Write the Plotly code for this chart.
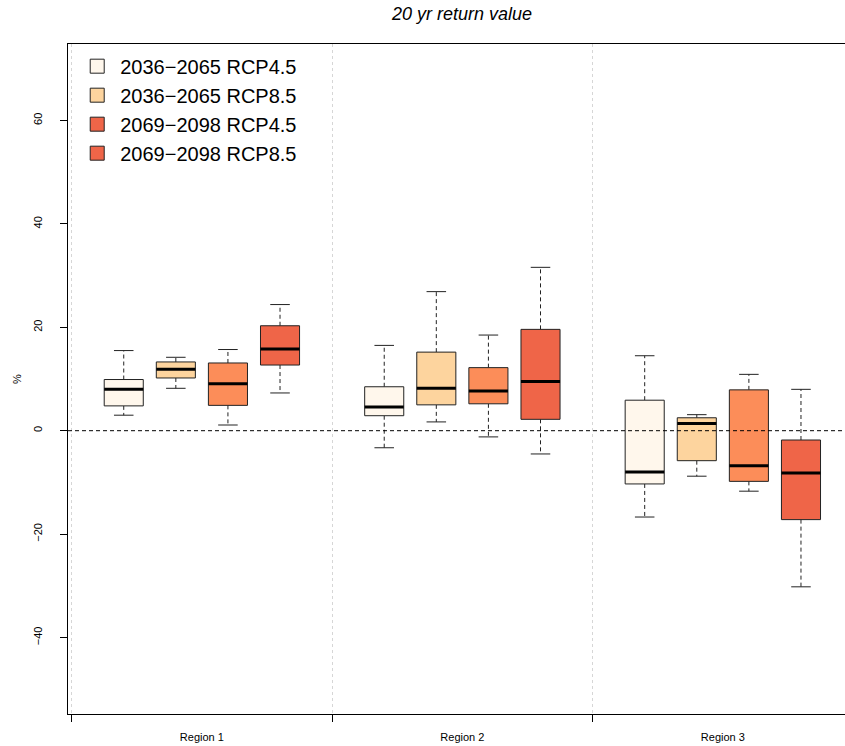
import plotly.graph_objects as go

# Regions and scenario groups
regions = ["Region 1", "Region 2", "Region 3"]
series = ["2036−2065 RCP4.5", "2036−2065 RCP8.5", "2069−2098 RCP4.5", "2069−2098 RCP8.5"]

# Box statistics (% change of the 20 yr return value), one list per scenario, one value per region
whisker_low = [
    [3.0, -3.3, -16.7],
    [8.2, 1.7, -8.8],
    [1.1, -1.2, -11.7],
    [7.3, -4.5, -30.2],
]
q1 = [
    [4.8, 2.9, -10.3],
    [10.2, 5.0, -5.8],
    [4.9, 5.2, -9.8],
    [12.7, 2.2, -17.2],
]
median = [
    [8.0, 4.6, -8.0],
    [11.9, 8.2, 1.4],
    [9.1, 7.7, -6.8],
    [15.8, 9.5, -8.2],
]
q3 = [
    [9.9, 8.5, 5.9],
    [13.3, 15.2, 2.5],
    [13.1, 12.2, 7.9],
    [20.3, 19.6, -1.8],
]
whisker_high = [
    [15.5, 16.5, 14.5],
    [14.2, 26.9, 3.1],
    [15.7, 18.5, 10.9],
    [24.4, 31.6, 8.0],
]

box_colors = ["#FFF7EC", "#FDD49E", "#FC8D59", "#EF6548"]
legend_colors = ["#FFF7EC", "#FDD49E", "#EF6548", "#EF6548"]

y_ticks = [-40, -20, 0, 20, 40, 60]

FONT = "Liberation Sans, Arial, Helvetica, sans-serif"
HALF_W = 0.075   # half box width in region units
CAP_HW = 0.0375  # half cap width
STEP = 0.2       # spacing of boxes inside a region

fig = go.Figure()

def centre(r, s):
    return r + STEP * (s + 1)

# dashed whiskers
wx, wy = [], []
for s in range(len(series)):
    for r in range(len(regions)):
        c = centre(r, s)
        wx += [c, c, None, c, c, None]
        wy += [q3[s][r], whisker_high[s][r], None, q1[s][r], whisker_low[s][r], None]
fig.add_trace(go.Scatter(x=wx, y=wy, mode="lines", showlegend=False, hoverinfo="skip",
                         line=dict(color="#222222", width=1, dash="4px,3px")))

# whisker caps
cx, cy = [], []
for s in range(len(series)):
    for r in range(len(regions)):
        c = centre(r, s)
        for v in (whisker_high[s][r], whisker_low[s][r]):
            cx += [c - CAP_HW, c + CAP_HW, None]
            cy += [v, v, None]
fig.add_trace(go.Scatter(x=cx, y=cy, mode="lines", showlegend=False, hoverinfo="skip",
                         line=dict(color="#222222", width=1)))

# boxes
for s in range(len(series)):
    bx, by = [], []
    for r in range(len(regions)):
        c = centre(r, s)
        bx += [c - HALF_W, c + HALF_W, c + HALF_W, c - HALF_W, c - HALF_W, None]
        by += [q1[s][r], q1[s][r], q3[s][r], q3[s][r], q1[s][r], None]
    fig.add_trace(go.Scatter(x=bx, y=by, mode="lines", fill="toself",
                             fillcolor=box_colors[s], showlegend=False, hoverinfo="skip",
                             line=dict(color="#222222", width=1)))

# medians
mx, my = [], []
for s in range(len(series)):
    for r in range(len(regions)):
        c = centre(r, s)
        mx += [c - HALF_W, c + HALF_W, None]
        my += [median[s][r], median[s][r], None]
fig.add_trace(go.Scatter(x=mx, y=my, mode="lines", showlegend=False, hoverinfo="skip",
                         line=dict(color="black", width=3)))

# legend entries
for s, name in enumerate(series):
    fig.add_trace(go.Scatter(x=[None], y=[None], mode="markers", name=name,
                             marker=dict(symbol="square", size=14, color=legend_colors[s],
                                         line=dict(color="#222222", width=1))))

# zero reference line
fig.add_shape(type="line", xref="paper", yref="y", x0=0, x1=1, y0=0, y1=0,
              line=dict(color="black", width=1, dash="4px,3px"))

fig.add_annotation(text="<i>20 yr return value</i>", xref="paper", yref="paper",
                   x=0.507, y=1.0448, xanchor="center", yanchor="middle", showarrow=False,
                   font=dict(family=FONT, size=18, color="black"))
fig.add_annotation(text="%", xref="paper", yref="paper", x=-0.0656, y=0.5, textangle=-90,
                   xanchor="center", yanchor="middle",
                   showarrow=False, font=dict(family=FONT, size=11, color="black"))

fig.update_layout(
    width=845, height=746,
    margin=dict(l=68, r=0, t=44, b=32),
    paper_bgcolor="white", plot_bgcolor="white",
    font=dict(family=FONT, color="black"),
    showlegend=True,
    legend=dict(x=0.008, y=0.996, xanchor="left", yanchor="top",
                font=dict(family=FONT, size=20, color="black"),
                bgcolor="rgba(0,0,0,0)", tracegroupgap=0, itemwidth=36),
    xaxis=dict(range=[-0.014, 2.969], showline=True, linecolor="black", linewidth=1, mirror=True,
               tickvals=[0.5, 1.5, 2.5], ticktext=regions, ticks="", showgrid=False,
               zeroline=False, tickfont=dict(family=FONT, size=11), ticklabelstandoff=13,
               minor=dict(tick0=0, dtick=1, ticks="outside", ticklen=7, tickcolor="black",
                          showgrid=True, gridcolor="#d6d6d6", griddash="dot", gridwidth=1)),
    yaxis=dict(range=[-54.8, 74.8], showline=True, linecolor="black", linewidth=1, mirror=False,
               tickvals=y_ticks, ticks="outside", ticklen=7, tickcolor="black", tickangle=-90,
               showgrid=False, zeroline=False, tickfont=dict(family=FONT, size=11),
               ticklabelstandoff=14),
)

fig.write_html("out.html")
